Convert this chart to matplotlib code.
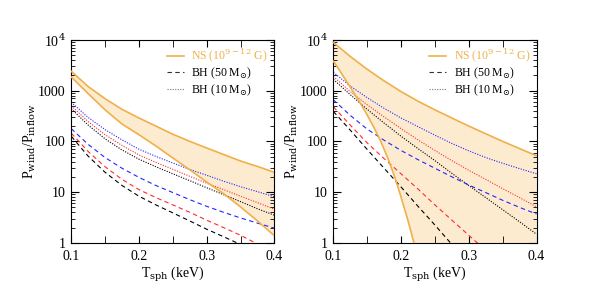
import matplotlib
matplotlib.use("Agg")
import matplotlib.pyplot as plt
from matplotlib.ticker import MultipleLocator, LogLocator, NullFormatter, FuncFormatter
import numpy as np

plt.rcParams['font.family'] = ['Liberation Serif', 'DejaVu Serif']
plt.rcParams['mathtext.fontset'] = 'dejavuserif'

# temperature grid (keV)
T = [0.10, 0.125, 0.15, 0.175, 0.20, 0.225, 0.25, 0.275, 0.30, 0.325, 0.35, 0.375, 0.40]

# ---- left panel ----
L_ns_up = [2400, 1200, 692, 427, 288, 200, 138, 100, 74, 55, 41, 32, 24.5]
L_ns_lo = [1860, 870, 417, 219, 135, 81, 47, 27.5, 15.8, 9.3, 5.1, 2.7, 1.38]
L_bh10_blue = [589, 295, 170, 107, 70, 50.5, 37.5, 28, 21.5, 16.4, 12.8, 10.2, 8.1]
L_bh10_red = [501, 245, 135, 83, 54, 38.5, 28.2, 20.5, 15.0, 11.2, 8.3, 6.2, 4.6]
L_bh10_black = [437, 209, 112, 67.6, 44.5, 31.6, 23, 16.8, 12.2, 8.9, 6.5, 4.7, 3.5]
L_bh50_blue = [178, 87, 47.9, 29.5, 19.5, 13.5, 9.8, 7.1, 5.25, 4.0, 3.1, 2.45, 1.95]
L_bh50_red = [145, 63, 31.6, 17.8, 11.2, 7.8, 5.6, 4.0, 2.8, 2.0, 1.41, 0.95]
L_bh50_black = [126, 51, 24.5, 13.5, 8.3, 5.6, 3.9, 2.7, 1.86, 1.32, 0.93]

# ---- right panel ----
R_ns_up = [8900, 4700, 2630, 1550, 955, 617, 417, 288, 200, 141, 100, 72, 52]
R_ns_lo_T = [0.10, 0.11, 0.12, 0.13, 0.14, 0.15, 0.16, 0.17, 0.18, 0.19, 0.20, 0.21, 0.22]
R_ns_lo = [3800, 2400, 1480, 910, 560, 330, 186, 100, 48, 21, 7.9, 2.8, 0.89]
R_bh10_blue = [2290, 1230, 724, 447, 288, 195, 132, 91, 65, 48, 37, 29, 23]
R_bh10_red = [1900, 955, 525, 302, 178, 107, 66, 41.7, 26.9, 17.8, 11.7, 7.8, 5.1]
R_bh10_black = [1660, 832, 427, 229, 126, 72, 41.7, 23.4, 13.5, 7.8, 4.5, 2.6, 1.48]
R_bh50_blue = [660, 324, 174, 105, 66, 43.6, 29.5, 20, 13.8, 9.8, 6.9, 5.0, 3.7]
R_bh50_red = [479, 209, 93, 45.7, 22.9, 11.5, 5.6, 2.8, 1.41, 0.71]
R_bh50_black = [389, 166, 69, 29.5, 12.6, 5.25, 2.24, 0.93]

NS_LINE = '#EFB04A'
NS_FILL = '#FDEBD0'
COLS = {'blue': '#2424FF', 'red': '#FF2A2A', 'black': '#000000'}


def draw_panel(ax, ns_up, ns_lo_T, ns_lo, bh10, bh50):
    # orange band; lower edge leaves the frame where the curve ends
    xf = np.linspace(0.1, 0.4, 601)
    up = 10 ** np.interp(xf, T, np.log10(ns_up))
    lo = 10 ** np.interp(xf, ns_lo_T, np.log10(ns_lo), right=-3)
    ax.fill_between(xf, lo, up, color=NS_FILL, lw=0, zorder=1)
    ax.plot(T, ns_up, color=NS_LINE, lw=1.2, zorder=3)
    ax.plot(ns_lo_T, ns_lo, color=NS_LINE, lw=1.2, zorder=3)

    for name, vals in bh10.items():
        ax.plot(T[:len(vals)], vals, color=COLS[name], ls=(0, (1, 1.3)), lw=0.8, zorder=2)
    for name, vals in bh50.items():
        ax.plot(T[:len(vals)], vals, color=COLS[name], ls=(0, (4, 3)), lw=0.8, zorder=2)

    # legend proxies
    h1, = ax.plot([], [], color=NS_LINE, lw=1.2)
    h2, = ax.plot([], [], color='#333333', ls=(0, (4, 3)), lw=0.8)
    h3, = ax.plot([], [], color='#777777', ls=(0, (1, 1.3)), lw=0.8)
    leg = ax.legend([h1, h2, h3],
                    [r'NS (10$^{9-12}$ G)', r'BH (50 M$_{\odot}$)', r'BH (10 M$_{\odot}$)'],
                    loc='upper right', frameon=False, fontsize=8.5,
                    handlelength=1.5, handletextpad=0.6, labelspacing=0.1,
                    borderaxespad=0.15)
    leg.get_texts()[0].set_color(NS_LINE)

    ax.set_yscale('log')
    ax.set_xlim(0.1, 0.4)
    ax.set_ylim(1, 1e4)
    ax.xaxis.set_major_locator(MultipleLocator(0.1))
    ax.xaxis.set_minor_locator(MultipleLocator(0.05))
    ax.yaxis.set_major_locator(LogLocator(base=10, numticks=10))
    ax.yaxis.set_minor_locator(LogLocator(base=10, subs=np.arange(2, 10), numticks=10))
    ax.yaxis.set_minor_formatter(NullFormatter())
    labels = {1: '1', 10: '10', 100: '100', 1000: '1000', 10000: r'10$^4$'}
    ax.yaxis.set_major_formatter(FuncFormatter(lambda v, p: labels.get(int(round(v)), '')))
    ax.xaxis.set_major_formatter(FuncFormatter(lambda v, p: f'{v:.1f}'))
    ax.tick_params(which='both', direction='in', top=True, right=True, labelsize=10)
    ax.tick_params(which='major', length=6, width=0.8)
    ax.tick_params(which='minor', length=3, width=0.6)
    ax.tick_params(axis='x', which='both', length=5, pad=5)
    ax.tick_params(axis='y', which='major', pad=4)
    for s in ax.spines.values():
        s.set_linewidth(0.8)
    ax.set_xlabel(r'T$_{\mathrm{sph}}$ (keV)', fontsize=10, labelpad=1)
    ax.set_ylabel(r'P$_{\mathrm{wind}}$/P$_{\mathrm{inflow}}$', fontsize=10, labelpad=0)


fig = plt.figure(figsize=(5.89, 2.93), dpi=100)
ax1 = fig.add_axes([0.121, 0.171, 0.345, 0.693])
ax2 = fig.add_axes([0.566, 0.171, 0.345, 0.693])

draw_panel(ax1, L_ns_up, T, L_ns_lo,
           {'blue': L_bh10_blue, 'red': L_bh10_red, 'black': L_bh10_black},
           {'blue': L_bh50_blue, 'red': L_bh50_red, 'black': L_bh50_black})
draw_panel(ax2, R_ns_up, R_ns_lo_T, R_ns_lo,
           {'blue': R_bh10_blue, 'red': R_bh10_red, 'black': R_bh10_black},
           {'blue': R_bh50_blue, 'red': R_bh50_red, 'black': R_bh50_black})

fig.savefig('out.png', dpi=100)
